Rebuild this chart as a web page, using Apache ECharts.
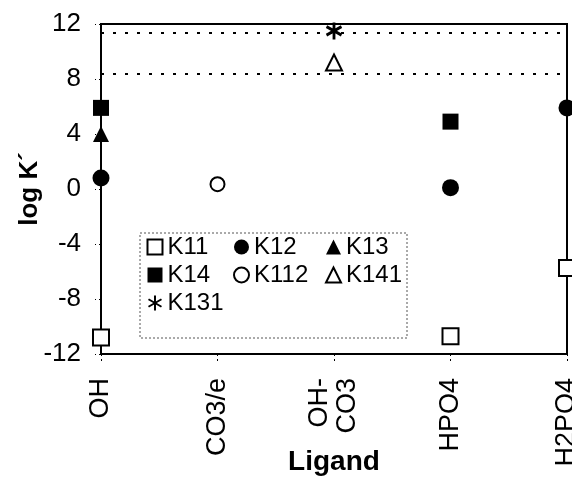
<!DOCTYPE html>
<html>
<head>
<meta charset="utf-8">
<script src="https://cdn.jsdelivr.net/npm/echarts@6/dist/echarts.min.js"></script>
<style>
  html, body { margin: 0; padding: 0; background: #fff; }
  #chart { width: 572px; height: 479px; }
</style>
</head>
<body>
<div id="chart"></div>
<script>
// Ligand categories along the x axis
const ligands = ['OH', 'CO3/e', 'OH-\nCO3', 'HPO4', 'H2PO4'];

// log K' values per constant, as [ligand, value]
const k11  = [['OH', -10.8], ['HPO4', -10.7], ['H2PO4', -5.75]];
const k12  = [['OH', 0.8], ['HPO4', 0.1], ['H2PO4', 5.9]];
const k13  = [['OH', 4.0]];
const k14  = [['OH', 5.9], ['HPO4', 4.9]];
const k112 = [['CO3/e', 0.35]];
const k131 = [['OH-\nCO3', 11.5]];
const k141 = [['OH-\nCO3', 9.2]];

// Horizontal reference levels (dotted)
const refLevels = [11.35, 8.4];

const FONT = '"Liberation Sans", Arial, sans-serif';
const asterisk = 'path://M0,-10 L0,10 M-8.66,-5 L8.66,5 M-8.66,5 L8.66,-5';

function scatter(name, data, symbol, size, filled, extra) {
  return Object.assign({
    name: name,
    type: 'scatter',
    data: data,
    symbol: symbol,
    symbolSize: size,
    clip: false,
    itemStyle: {
      color: filled ? '#000' : '#fff',
      borderColor: '#000',
      borderWidth: filled ? 0 : 2,
      opacity: 1
    },
    z: 5
  }, extra || {});
}

const chart = echarts.init(document.getElementById('chart'), null, { renderer: 'canvas' });

const legendBase = {
  orient: 'vertical',
  itemWidth: 15,
  itemHeight: 15,
  itemGap: 4,
  padding: 0,
  selectedMode: false,
  textStyle: { fontFamily: FONT, fontSize: 24, color: '#000', padding: [0, 0, 0, 0] }
};

chart.setOption({
  animation: false,
  backgroundColor: '#fff',
  grid: {
    left: 101, right: 5, top: 24, bottom: 125,
    show: true, borderColor: '#000', borderWidth: 2,
    containLabel: false,
    outerBoundsMode: 'none'
  },
  legend: [
    Object.assign({}, legendBase, { left: 146, top: 235, data: ['K11', 'K14', 'K131'] }),
    Object.assign({}, legendBase, { left: 233, top: 235, data: ['K12', 'K112'] }),
    Object.assign({}, legendBase, { left: 325, top: 235, data: ['K13', 'K141'] })
  ],
  graphic: [{
    type: 'rect',
    shape: { x: 140, y: 233, width: 267, height: 105 },
    style: { fill: 'none', stroke: '#555', lineWidth: 1, lineDash: [2, 2] },
    z: 1
  }],
  xAxis: {
    type: 'category',
    data: ligands,
    boundaryGap: false,
    name: 'Ligand',
    nameLocation: 'middle',
    nameGap: 94,
    nameMoveOverlap: false,
    nameTextStyle: { fontFamily: FONT, fontSize: 28, fontWeight: 'bold', color: '#000' },
    axisLine: { onZero: false, lineStyle: { color: '#000', width: 2 } },
    axisTick: { show: true, inside: false, length: 8, lineStyle: { color: '#000', type: [2, 3] } },
    axisLabel: {
      rotate: 90, margin: 24, fontFamily: FONT, fontSize: 27, color: '#000',
      lineHeight: 28, interval: 0
    },
    splitLine: { show: false }
  },
  yAxis: {
    type: 'value',
    min: -12, max: 12, interval: 4,
    name: 'log K\u00B4',
    nameLocation: 'middle',
    nameGap: 58,
    nameMoveOverlap: false,
    nameTextStyle: { fontFamily: FONT, fontSize: 26, fontWeight: 'bold', color: '#000' },
    axisLine: { show: true, lineStyle: { color: '#000', width: 2 } },
    axisTick: { show: true, length: 6, lineStyle: { color: '#000', type: [2, 3] } },
    axisLabel: { margin: 20, fontFamily: FONT, fontSize: 26, color: '#000' },
    splitLine: { show: false }
  },
  series: [
    scatter('K11', k11, 'rect', 16, false, {
      markLine: {
        silent: true,
        symbol: 'none',
        label: { show: false },
        lineStyle: { color: '#000', type: [3, 9], width: 2 },
        data: refLevels.map(v => ({ yAxis: v }))
      }
    }),
    scatter('K12', k12, 'circle', 17, true),
    scatter('K13', k13, 'triangle', 16, true),
    scatter('K14', k14, 'rect', 16, true),
    scatter('K112', k112, 'circle', 14, false),
    scatter('K131', k131, asterisk, [15, 17], false, {
      itemStyle: { color: 'none', borderColor: '#000', borderWidth: 3, opacity: 1 }
    }),
    scatter('K141', k141, 'triangle', 16, false)
  ]
});
</script>
</body>
</html>
